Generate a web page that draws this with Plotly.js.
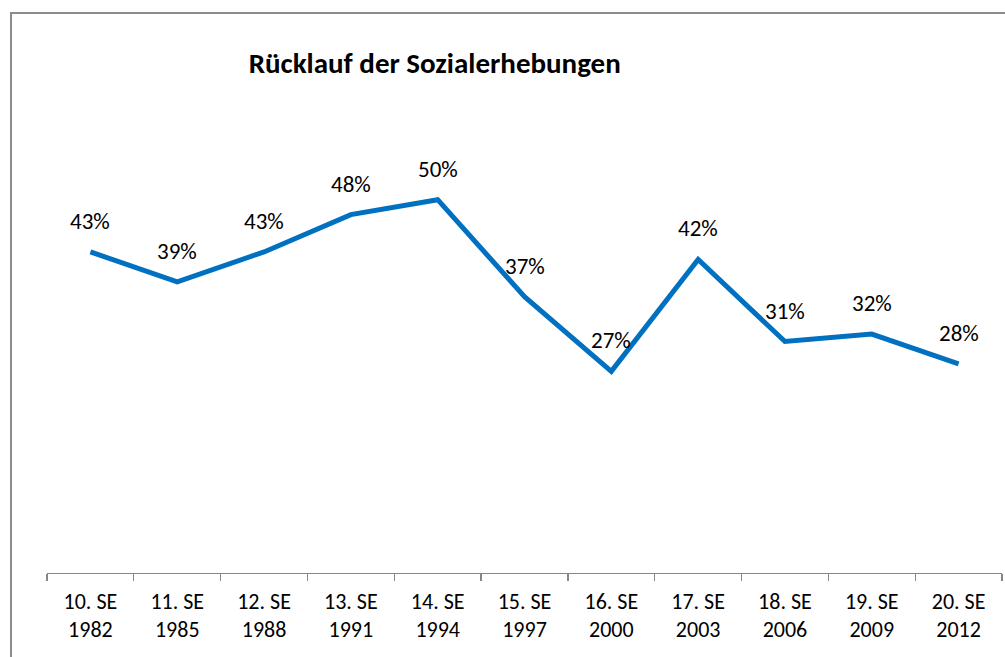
<!DOCTYPE html>
<html>
<head>
<meta charset="utf-8">
<script src="https://cdn.plot.ly/plotly-3.0.1.min.js"></script>
<style>
html,body{margin:0;padding:0;background:#fff;}
#wrap{position:absolute;left:0;top:0;width:1005px;height:657px;overflow:hidden;}
#frame{position:absolute;left:10px;top:12px;width:1100px;height:700px;border-left:2px solid #8c8c8c;border-top:2px solid #8c8c8c;}
#chart{position:absolute;left:0;top:0;width:1005px;height:657px;}
</style>
</head>
<body>
<div id="wrap">
<div id="frame"></div>
<div id="chart"></div>
</div>
<script>
const categories = ["10. SE<br>1982","11. SE<br>1985","12. SE<br>1988","13. SE<br>1991","14. SE<br>1994","15. SE<br>1997","16. SE<br>2000","17. SE<br>2003","18. SE<br>2006","19. SE<br>2009","20. SE<br>2012"];
const ruecklauf = [0.43,0.39,0.43,0.48,0.50,0.37,0.27,0.42,0.31,0.32,0.28];
const labels = ["43%","39%","43%","48%","50%","37%","27%","42%","31%","32%","28%"];
const titleText = "Rücklauf der Sozialerhebungen";

const FONT = "Calibri, Carlito, Lato, 'Open Sans', sans-serif";

const trace = {
  x: categories,
  y: ruecklauf,
  type: 'scatter',
  mode: 'lines',
  line: {color: '#0070C0', width: 5},
  hoverinfo: 'skip'
};

const annotations = categories.map((c, i) => ({
  x: c, y: ruecklauf[i], xref: 'x', yref: 'y',
  text: labels[i], showarrow: false, yshift: 31,
  font: {family: FONT, size: 23, color: '#000'}
}));

const layout = {
  width: 1005, height: 657,
  margin: {l: 47, r: 3, t: 125, b: 84, pad: 0},
  paper_bgcolor: 'rgba(0,0,0,0)',
  plot_bgcolor: 'rgba(0,0,0,0)',
  showlegend: false,
  title: {
    text: '<b>' + titleText + '</b>',
    x: 0.406, xanchor: 'center', xref: 'paper',
    y: 0.905, yanchor: 'middle', yref: 'container',
    font: {family: FONT, size: 29, color: '#000'}
  },
  xaxis: {
    type: 'category',
    range: [-0.5, 10.5],
    showgrid: false, zeroline: false,
    showline: true, linecolor: '#868686', linewidth: 1.3,
    ticks: 'outside', ticklen: 7, tickcolor: '#868686', tickwidth: 1.3,
    tickson: 'boundaries',
    ticklabelstandoff: 8,
    tickfont: {family: FONT, size: 22, color: '#000'},
    fixedrange: true
  },
  yaxis: {
    range: [0, 0.6],
    visible: false,
    showgrid: false, zeroline: false,
    fixedrange: true
  },
  annotations: annotations
};

Plotly.newPlot('chart', [trace], layout, {displayModeBar: false, staticPlot: true});
</script>
</body>
</html>
